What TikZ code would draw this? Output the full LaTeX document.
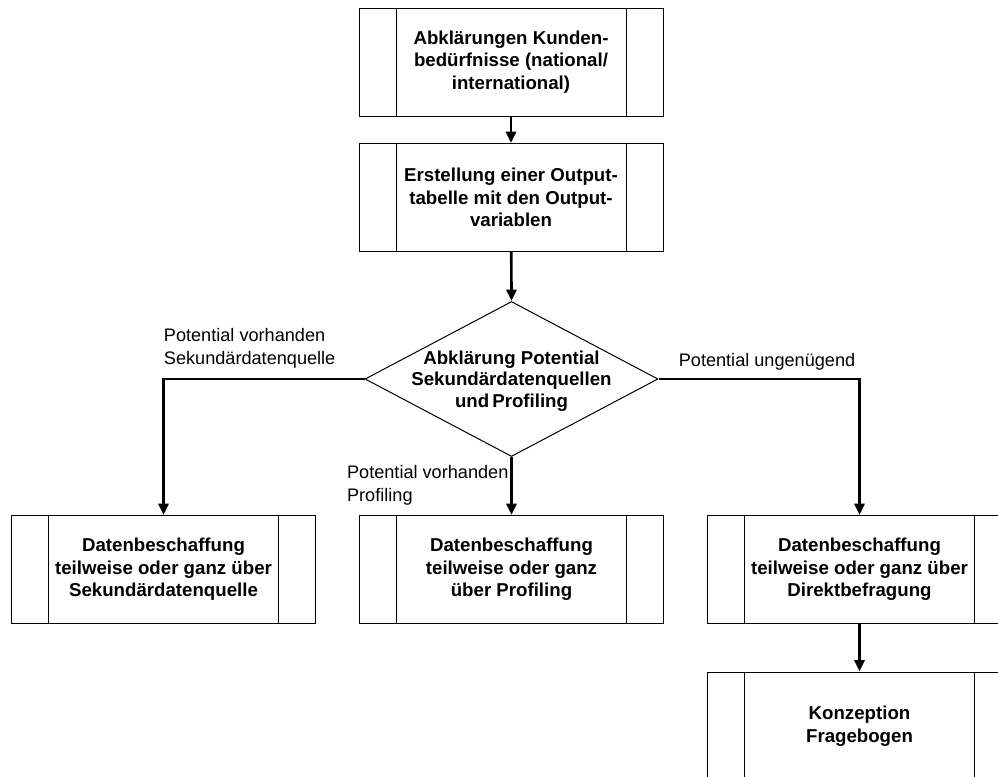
\documentclass[tikz,border=0pt]{standalone}
\usepackage{fontspec}
\setmainfont{Liberation Sans}
\usetikzlibrary{arrows.meta,shapes.geometric}

\begin{document}
\begin{tikzpicture}[x=0.75pt,y=-0.75pt,->,>={Triangle[length=8.5pt,width=7.5pt]},
        line width=2pt,
        proc/.style={draw,line width=0.75pt,minimum width=228pt,minimum height=81pt,
          align=center,font=\fontsize{14}{16.9}\selectfont\bfseries,
          path picture={\draw[line width=0.75pt,-]
            ([xshift=27.75pt]path picture bounding box.north west) -- ([xshift=27.75pt]path picture bounding box.south west)
            ([xshift=-27.75pt]path picture bounding box.north east) -- ([xshift=-27.75pt]path picture bounding box.south east);}},
        lbl/.style={align=left,font=\fontsize{13.6}{17}\selectfont}]

    \useasboundingbox (0,0) rectangle (998,776);
    \clip (0,0) rectangle (998,776);

    \node[proc] (abk) at (511,62) {Abklärungen Kunden-\\bedürfnisse (national/\\international)};
    \node[proc] (out) at (511,197.5) {Erstellung einer Output-\\tabelle mit den Output-\\variablen};
    \node[diamond,draw,line width=0.75pt,minimum width=219.75pt,minimum height=116.25pt,inner sep=0pt] (dia) at (511.5,379) {};
    \node[align=center,font=\fontsize{14}{16}\selectfont\bfseries] (diatext) at (511.5,381) {Abklärung Potential\\Sekundärdatenquellen\\und\,Profiling};
    \node[proc] (sek) at (163.5,569.5) {Datenbeschaffung\\teilweise oder ganz über\\Sekundärdatenquelle};
    \node[proc] (prof) at (511.5,569.5) {Datenbeschaffung\\teilweise oder ganz\\über Profiling};
    \node[proc] (direkt) at (859.5,569.5) {Datenbeschaffung\\teilweise oder ganz über\\Direktbefragung};
    \node[proc] (konz) at (859.5,726) {Konzeption\\Fragebogen};

    \draw (abk) -- (out);
    \draw (out) -- (dia.north);
    \draw (dia.west) -| node[pos=0.5,lbl,above right,xshift=-4pt,yshift=4pt] {Potential vorhanden\\Sekundärdatenquelle} (sek.north);
    \draw (dia.south) -- node[pos=0,lbl,below left,xshift=2pt,yshift=-2pt] {Potential vorhanden\\Profiling} (prof.north);
    \draw (dia.east) -| node[pos=0.27,lbl,above,yshift=2pt] {Potential ungenügend} (direkt.north);
    \draw (direkt) -- (konz);

\end{tikzpicture}
\end{document}
